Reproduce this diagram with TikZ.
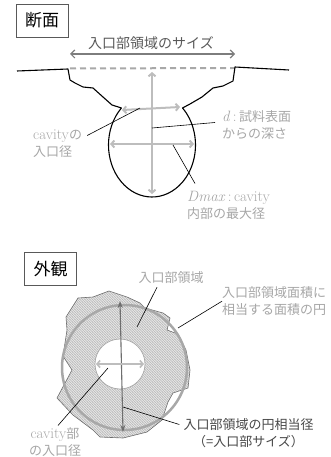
\documentclass[tikz,border=0pt]{standalone}
\usepackage{fontspec}
\newfontfamily\jp{Noto Sans CJK JP}
\usetikzlibrary{arrows.meta}
\usetikzlibrary{patterns}
\usetikzlibrary{positioning}
\definecolor{labelgray}{HTML}{A6A6A6}
\definecolor{titlegray}{HTML}{595959}
\definecolor{gaugegray}{HTML}{BDBDBD}
\definecolor{gaugedark}{HTML}{6E6E6E}
\definecolor{ringgray}{HTML}{A8A8A8}
\newcommand{\lat}[1]{{\fontsize{15}{17}\rmfamily #1}}
\pgfdeclarepatternformonly{finehatch}{\pgfqpoint{-1pt}{-1pt}}{\pgfqpoint{3.5pt}{3.5pt}}{\pgfqpoint{2.5pt}{2.5pt}}{
    \pgfsetlinewidth{0.55pt}
    \pgfpathmoveto{\pgfqpoint{-0.5pt}{3pt}}
    \pgfpathlineto{\pgfqpoint{3pt}{-0.5pt}}
    \pgfusepath{stroke}}
\tikzset{tag/.style = {draw=titlegray, line width=0.6pt, font=\jp\fontsize{17}{20}\selectfont,
                       inner sep=0pt, minimum width=52pt, minimum height=33pt},
         caption/.style = {font=\jp\fontsize{13}{17}\selectfont, text=labelgray,
                           inner sep=0pt, align=left},
         outline/.style = {line width=1.1pt, line join=round},
         leader/.style = {line width=0.6pt},
         rim/.style = {draw=ringgray, line width=2pt, dash pattern=on 6pt off 4pt},
         span/.style = {draw=gaugedark!90, line width=1.2pt,
                        {Straight Barb[length=4pt, width=8pt]}-{Straight Barb[length=4pt, width=8pt]}},
         gauge/.style = {draw=gaugegray, line width=2pt,
                         {Straight Barb[length=3pt, width=7pt]}-{Straight Barb[length=3pt, width=7pt]}},
         darkgauge/.style = {draw=gaugedark, line width=1.1pt,
                             {Stealth[length=7pt, width=5pt]}-{Stealth[length=7pt, width=5pt]}},
         region/.style = {draw=gaugedark, line width=0.6pt, pattern=finehatch,
                          pattern color=gray!55, preaction={fill=gray!18}}}

\begin{document}
\begin{tikzpicture}[x=1pt, y=-1pt]
    \useasboundingbox (0, 0) rectangle (331, 457);

    \node [tag] (cut) at (42, 20.5) {断面};
    \node [font=\jp\fontsize{14}{17}\selectfont, text=titlegray, inner sep=0pt] (size) at (151, 43) {入口部領域のサイズ};
    \coordinate (sizeL) at (70, 54);
    \coordinate (sizeR) at (235, 54);
    \draw [span] (sizeL) -- (sizeR);

    \coordinate (rimL) at (70, 68.5);
    \coordinate (rimR) at (235, 68);
    \draw [rim] (rimL) -- (rimR);

    \draw [outline] (17, 71) -- (68, 69) -- (70, 80) -- (75, 83) -- (83, 87) -- (93, 88)
        -- (103, 97) -- (112, 105) -- (121.45, 107.98)
        arc [start angle=225.4, end angle=-45.4, x radius=43.5, y radius=52]
        -- (190, 104) -- (202, 97) -- (213, 88) -- (223, 86) -- (233, 81) -- (235, 67) -- (289, 70);

    \coordinate (depthT) at (152, 72);
    \coordinate (depthB) at (152, 194);
    \coordinate (mouthL) at (122, 110);
    \coordinate (mouthR) at (180, 107);
    \coordinate (dmaxL) at (110, 144);
    \coordinate (dmaxR) at (194, 144);
    \draw [gauge] (depthT) -- (depthB);
    \draw [gauge] (mouthL) -- (mouthR);
    \draw [gauge] (dmaxL) -- (dmaxR);

    \node [caption, anchor=north west] (mouth) at (33, 129.5) {\lat{cavity}の\\入口径};
    \node [caption, anchor=north west] (depth) at (222, 110.5) {\lat{\itshape d\/\upshape\,:\,}試料表面\\からの深さ};
    \node [caption, anchor=north west] (dmax) at (187, 191.5) {\lat{\itshape Dmax\/\upshape\,:\,cavity}\\内部の最大径};

    \coordinate (mouthP) at (140, 108);
    \coordinate (depthP) at (152, 128);
    \coordinate (dmaxP) at (173, 145);
    \draw [leader] ([shift={(5, 6)}]mouth.north east) -- (mouthP);
    \draw [leader] ([shift={(-7, 12)}]depth.north west) -- (depthP);
    \draw [leader] ([shift={(8, -8)}]dmax.north west) -- (dmaxP);

    \node [tag] (look) at (50.5, 269) {外観};

    \filldraw [region] (109, 291) -- (127, 297) -- (140, 303) -- (145, 308) -- (163, 313)
        -- (170, 318) -- (167, 330) -- (178, 334) -- (186, 350) -- (190, 370) -- (188, 388)
        -- (173, 393) -- (168, 402) -- (162, 420) -- (147, 432) -- (123, 438) -- (100, 437)
        -- (93, 430) -- (73, 415) -- (57, 398) -- (72, 370) -- (63, 356) -- (67, 330)
        -- (66, 317) -- (78, 298) -- (93, 297) -- cycle;
    \draw [ringgray, line width=2.5pt] (124.5, 367.5) circle [radius=62.5];
    \draw [fill=white, draw=ringgray, line width=0.7pt] (120, 364) circle [radius=25];

    \coordinate (eqT) at (120, 301);
    \coordinate (eqB) at (123, 432);
    \coordinate (holeL) at (96, 364);
    \coordinate (holeR) at (144, 364);
    \draw [darkgauge] (eqT) -- (eqB);
    \draw [gauge, line width=1.6pt] (holeL) -- (holeR);

    \node [caption] (reg) at (171, 278) {入口部領域};
    \node [caption, anchor=north west] (equal) at (222, 286.5) {入口部領域面積に\\相当する面積の円};
    \node [caption, anchor=north, align=center, text=titlegray!80!black] (eqdia) at (248.5, 418.5) {入口部領域の円相当径\\（=入口部サイズ）};
    \node [caption, anchor=north, align=center] (holedia) at (55, 427.5) {\lat{cavity}部\\の入口径};

    \coordinate (regP) at (137, 327);
    \coordinate (equalP) at (178, 328);
    \coordinate (eqdiaP) at (123, 407);
    \coordinate (holediaP) at (108, 368);
    \draw [leader] ([shift={(-14, 3)}]reg.south) -- (regP);
    \draw [leader] (equal.west) -- (equalP);
    \draw [leader] ([shift={(-4, 6)}]eqdia.north west) -- (eqdiaP);
    \draw [leader] ([shift={(3, -2)}]holedia.north) -- (holediaP);
\end{tikzpicture}
\end{document}
